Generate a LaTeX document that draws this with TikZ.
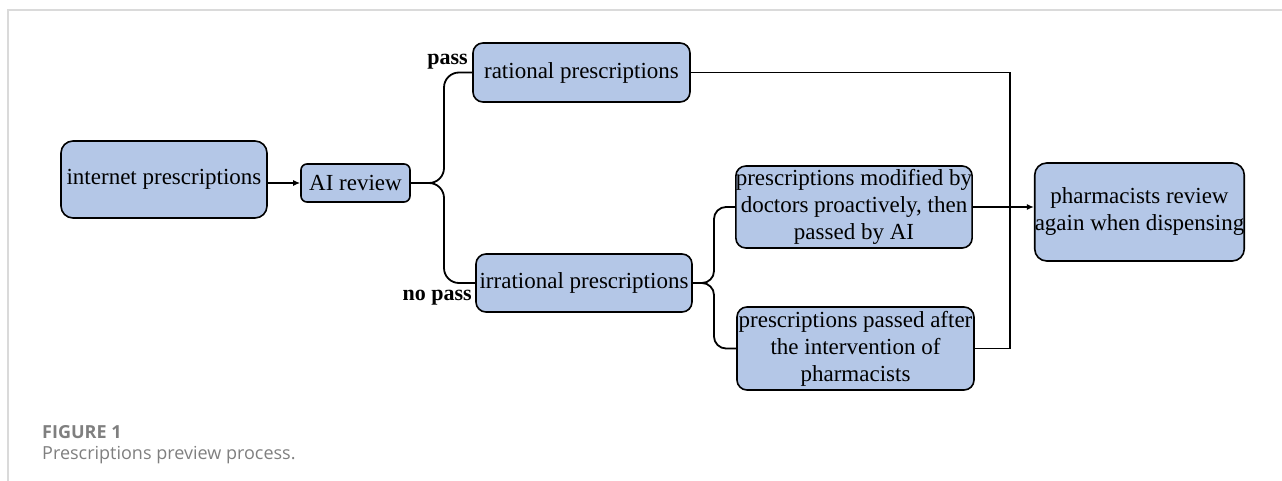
\documentclass[tikz,border=0pt]{standalone}
\usepackage{fontspec}
\setmainfont{Liberation Serif}
\newfontfamily\capfont{Open Sans}
\usetikzlibrary{arrows.meta}
\definecolor{boxfill}{HTML}{B4C7E7}
\definecolor{framegray}{HTML}{DADADA}
\definecolor{capgray}{HTML}{7F7F7F}
\begin{document}
\begin{tikzpicture}[x=1pt,y=-1pt,
  box/.style={draw=black, line width=1.6pt, fill=boxfill, rounded corners=10pt,
    inner sep=0pt, align=center, font=\fontsize{23}{27}\selectfont},
  conn/.style={draw=black, line width=1.8pt},
  arr/.style={conn, -{Latex[length=7pt,width=6pt]}},
  lbl/.style={font=\fontsize{22}{26}\selectfont\bfseries, inner sep=0pt}]
\useasboundingbox (0,0) rectangle (1282,481);
% frame
\draw[framegray, line width=2pt] (8,481) -- (8,10) -- (1282,10);
% nodes
\node[box, minimum width=206pt, minimum height=77pt, rounded corners=12pt] (inet) at (164,179.5) {internet prescriptions};
\node[box, minimum width=109pt, minimum height=38pt, rounded corners=6pt] (ai) at (355.5,183) {AI review};
\node[box, minimum width=217pt, minimum height=59pt] (rat) at (581.5,72.5) {rational prescriptions};
\node[box, minimum width=216pt, minimum height=58pt] (irr) at (584,283) {irrational prescriptions};
\node[box, minimum width=236pt, minimum height=82pt] (mod) at (854,207) {prescriptions modified by\\doctors proactively, then\\passed by AI};
\node[box, minimum width=237pt, minimum height=83pt] (aft) at (855.5,348.5) {prescriptions passed after\\the intervention of\\pharmacists};
\node[box, minimum width=207pt, minimum height=98pt, rounded corners=12pt] (pha) at (1139.5,212) {pharmacists review\\again when dispensing};
% labels
\node[lbl, anchor=east] (lpass) at (468,62) {pass};
\node[lbl, anchor=east] (lnopass) at (472,298) {no pass};
% helper coordinates
\coordinate (b1) at (444,0);
\coordinate (b2) at (714,0);
\coordinate (b3) at (1010,0);
% connectors
\draw[arr] (inet.east |- ai.west) -- (ai.west);
\draw[conn, rounded corners=15pt] (ai.east) -- (ai.east -| b1) -- (b1 |- rat.west) -- (rat.west);
\draw[conn, rounded corners=15pt] (ai.east) -- (ai.east -| b1) -- (b1 |- irr.west) -- (irr.west);
\draw[conn, rounded corners=12pt] (irr.east) -- (irr.east -| b2) -- (b2 |- mod.west) -- (mod.west);
\draw[conn, rounded corners=12pt] (irr.east) -- (irr.east -| b2) -- (b2 |- aft.west) -- (aft.west);
\draw[conn] (rat.east) -- (rat.east -| b3) -- (b3 |- aft.east) -- (aft.east);
\draw[arr] (mod.east) -- (mod.east -| pha.west);
% caption
\node[anchor=base west, inner sep=0pt, text=capgray, font=\capfont\fontsize{18}{22}\selectfont\bfseries] (cap1) at (42,438) {FIGURE 1};
\node[anchor=base west, inner sep=0pt, text=capgray, font=\capfont\fontsize{18}{22}\selectfont] (cap2) at (42,459) {Prescriptions preview process.};
\end{tikzpicture}
\end{document}
